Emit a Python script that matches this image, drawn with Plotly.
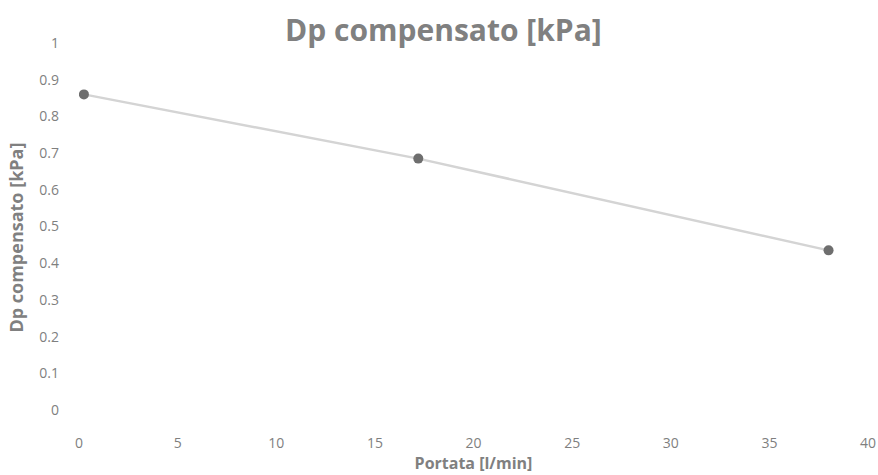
import plotly.graph_objects as go

portata = [0.25, 17.2, 38.0]
dp_compensato = [0.86, 0.685, 0.435]
x_ticks = [0, 5, 10, 15, 20, 25, 30, 35, 40]
y_ticks = [0, 0.1, 0.2, 0.3, 0.4, 0.5, 0.6, 0.7, 0.8, 0.9, 1]

fig = go.Figure()
fig.add_trace(go.Scatter(
    x=portata, y=dp_compensato, mode="lines+markers",
    line=dict(color="#d4d4d4", width=2.5),
    marker=dict(color="#6e6e6e", size=10),
    showlegend=False,
))

font_fam = "'Open Sans', sans-serif"
fig.update_layout(
    width=878, height=475,
    margin=dict(l=79, r=10, t=43, b=65, autoexpand=False),
    paper_bgcolor="white", plot_bgcolor="white",
    font=dict(family=font_fam, color="#7f7f7f", size=14),
    title=dict(text="<b>Dp compensato [kPa]</b>", x=0.505, xanchor="center",
               y=0.935, yanchor="middle",
               font=dict(size=30, color="#808080", family=font_fam)),
    xaxis=dict(range=[0, 40], tickvals=x_ticks, showgrid=False, zeroline=False,
               showline=False, ticks="", ticklabelstandoff=23, automargin=False,
               tickfont=dict(size=14),
               title=dict(text="<b>Portata [l/min]</b>", standoff=4,
                          font=dict(size=16, color="#808080"))),
    yaxis=dict(range=[0, 1], tickvals=y_ticks, ticktext=[str(v) for v in y_ticks],
               showgrid=False, zeroline=False, showline=False, ticks="",
               ticklabelstandoff=19, tickfont=dict(size=14), automargin=False),
    annotations=[dict(text="<b>Dp compensato [kPa]</b>", textangle=-90,
                      xref="paper", yref="paper", x=-0.081, y=0.47,
                      xanchor="center", yanchor="middle", showarrow=False,
                      font=dict(size=18, color="#808080", family=font_fam))],
)

fig.write_html("out.html", config={"displayModeBar": False},
               post_script="document.body.style.margin='0';")
